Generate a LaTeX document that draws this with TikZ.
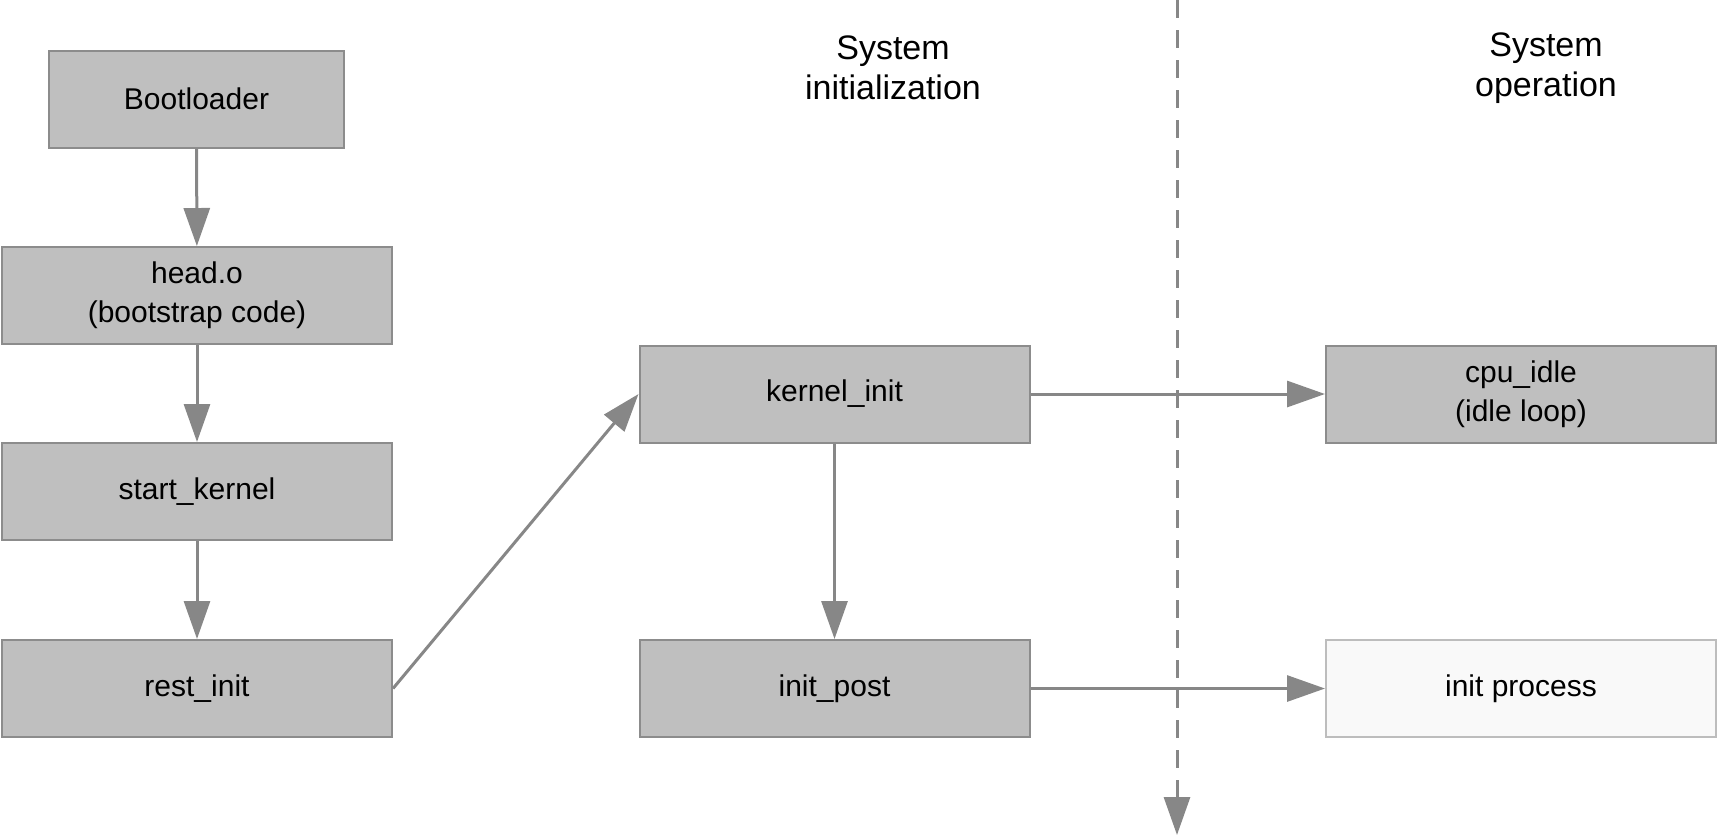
\documentclass[tikz,border=0pt]{standalone}
\usepackage{fontspec}
\setmainfont{Liberation Sans}
\usetikzlibrary{arrows.meta}
\definecolor{boxfill}{HTML}{BFBFBF}
\definecolor{boxline}{HTML}{8C8C8C}
\definecolor{arrowcol}{HTML}{878787}
\definecolor{lightfill}{HTML}{F9F9F9}
\definecolor{lightline}{HTML}{BDBDBD}
\begin{document}
\begin{tikzpicture}[x=0.5pt,y=-0.5pt,
  procbox/.style={draw=boxline, fill=boxfill, line width=1pt, minimum width=195pt, minimum height=48.5pt, inner sep=0pt, align=center, font=\fontsize{15pt}{19.5pt}\selectfont},
  lightbox/.style={procbox, draw=lightline, fill=lightfill},
  flow/.style={draw=arrowcol, line width=1.5pt, -{Triangle[length=19pt,width=13pt]}},
  header/.style={align=center, font=\fontsize{17pt}{20pt}\selectfont}]
\useasboundingbox (0,0) rectangle (1719,837);
\node[procbox, minimum width=147.5pt] (boot) at (196.5,99) {Bootloader};
\node[procbox] (head) at (197,295.5) {head.o\\(bootstrap code)};
\node[procbox] (start) at (197,491.5) {start\_kernel};
\node[procbox] (rest) at (197,688.5) {rest\_init};
\node[procbox] (kinit) at (834.5,394) {kernel\_init};
\node[procbox] (ipost) at (834.5,688.5) {init\_post};
\node[procbox] (idle) at (1521,394) {cpu\_idle\\(idle loop)};
\node[lightbox] (iproc) at (1521,688.5) {init process};
\node[header] (hinit) at (893,68) {System\\initialization};
\node[header] (hop) at (1546,68) {System\\operation};
\coordinate (dtop) at (1177,0);
\coordinate (dbot) at (1177,835);
\draw[draw=arrowcol, line width=1.5pt, dash pattern=on 9pt off 6pt, -{Triangle[length=19pt,width=13pt]}] (dtop) -- (dbot);
\draw[flow] (boot) -- (head);
\draw[flow] (head) -- (start);
\draw[flow] (start) -- (rest);
\draw[flow] (rest.east) -- (kinit.west);
\draw[flow] (kinit) -- (ipost);
\draw[flow] (kinit) -- (idle);
\draw[flow] (ipost) -- (iproc);
\end{tikzpicture}
\end{document}
